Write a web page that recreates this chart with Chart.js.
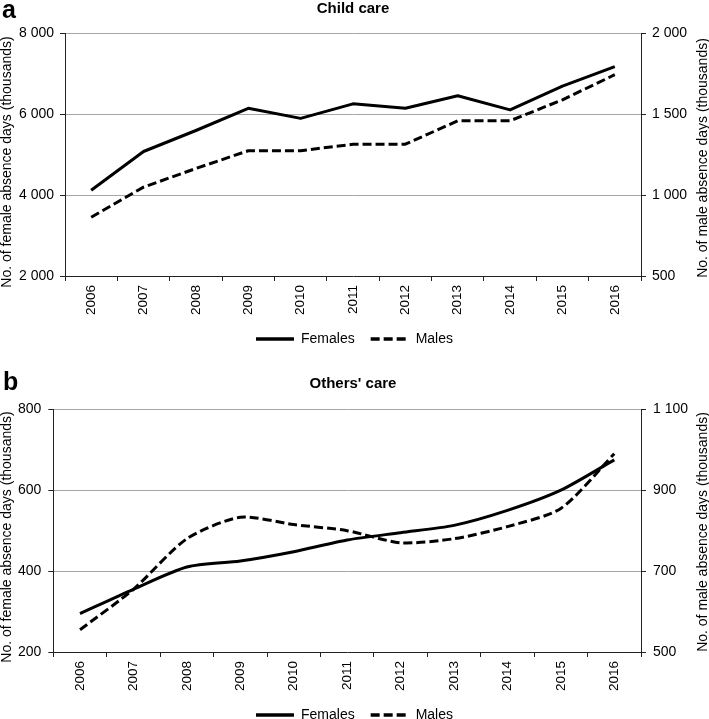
<!DOCTYPE html>
<html><head><meta charset="utf-8">
<script src="https://cdn.jsdelivr.net/npm/chart.js@4/dist/chart.umd.min.js"></script>
<style>
html,body{margin:0;padding:0;width:709px;height:719px;overflow:hidden;background:#fff;font-family:"Liberation Sans",Arial,sans-serif;}
.box{position:absolute;left:0;width:709px;}
.lbl{position:absolute;font-weight:bold;color:#000;white-space:nowrap;}
.rt{position:absolute;width:300px;height:14px;font-size:14px;line-height:14px;text-align:center;color:#000;white-space:nowrap;transform:rotate(-90deg);transform-origin:50% 50%;}
</style></head><body>
<div class="box" style="top:0;height:356px"><canvas id="cA" width="709" height="356"></canvas></div>
<div class="box" style="top:356px;height:376px"><canvas id="cB" width="709" height="376"></canvas></div>
<div class="lbl" style="left:2px;top:-3px;font-size:25px;line-height:25px;">a</div>
<div class="lbl" style="left:0;width:706px;text-align:center;top:0;font-size:15px;line-height:15px;">Child care</div>
<div class="lbl" style="left:3px;top:369px;font-size:25px;line-height:25px;">b</div>
<div class="lbl" style="left:0;width:706px;text-align:center;top:375px;font-size:15px;line-height:15px;">Others' care</div>
<div class="rt" id="ltA" style="left:-144.5px;top:154.5px;"></div>
<div class="rt" id="ltB" style="left:-144.5px;top:530px;"></div>
<div class="rt" id="rtA" style="left:551.7px;top:151.3px;"></div>
<div class="rt" id="rtB" style="left:551.7px;top:524.7px;"></div>
<script>
const years = ['2006','2007','2008','2009','2010','2011','2012','2013','2014','2015','2016'];
const childFemales = [4120,5080,5600,6150,5900,6260,6150,6460,6110,6700,7180];
const childMales   = [863,1050,1165,1275,1275,1315,1315,1460,1460,1590,1745];
const othersFemales = [295,355,410,425,448,477,495,513,550,600,675];
const othersMales   = [555,655,780,833,815,800,770,780,810,855,990];
const childLeftTicks  = ['2 000','4 000','6 000','8 000'];
const childRightTicks = ['500','1 000','1 500','2 000'];
const othersLeftTicks  = ['200','400','600','800'];
const othersRightTicks = ['500','700','900','1 100'];
const seriesNames = ['Females','Males'];
const leftTitle = 'No. of female absence days (thousands)';
const rightTitle = 'No. of male absence days (thousands)';

document.getElementById('ltA').textContent = leftTitle;
document.getElementById('ltB').textContent = leftTitle;
document.getElementById('rtA').textContent = rightTitle;
document.getElementById('rtB').textContent = rightTitle;

Chart.defaults.font.family = "'Liberation Sans', Arial, sans-serif";
Chart.defaults.color = '#000';
const AX = '#222';
const GRID = '#a6a6a6';

function legendLabels(chart) {
  const items = Chart.defaults.plugins.legend.labels.generateLabels(chart);
  items.forEach((it, i) => {
    const ds = chart.data.datasets[it.datasetIndex ?? i];
    it.lineDash = ds.borderDash || [];
    it.lineWidth = 3.5;
    it.strokeStyle = '#000';
    it.fillStyle = '#000';
    it.pointStyle = 'line';
    it.fontColor = '#000';
  });
  return items;
}

function makeChart(id, o) {
  return new Chart(document.getElementById(id), {
    type: 'line',
    data: { labels: years, datasets: [
      { label: seriesNames[0], data: o.f, yAxisID: 'yL', borderColor: '#000', backgroundColor: '#000', borderWidth: 3, pointRadius: 0, tension: o.tension, fill: false, borderJoinStyle: 'round' },
      { label: seriesNames[1], data: o.m, yAxisID: 'yR', borderColor: '#000', backgroundColor: '#000', borderWidth: 3, borderDash: [9,4], pointRadius: 0, tension: o.tension, fill: false, borderJoinStyle: 'round' }
    ]},
    options: {
      responsive: false, animation: false, events: [],
      layout: { padding: { top: o.top, left: 0, right: 0, bottom: 0 } },
      plugins: {
        title: { display: false }, tooltip: { enabled: false },
        legend: { display: true, position: 'bottom',
          labels: { usePointStyle: true, pointStyle: 'line', pointStyleWidth: 38, color: '#000', font: { size: 14 }, padding: 16, generateLabels: legendLabels } }
      },
      scales: {
        x: { type: 'category', offset: true,
          grid: { offset: true, drawOnChartArea: false, drawTicks: true, tickLength: 5, tickColor: AX, color: AX },
          border: { color: AX },
          ticks: { minRotation: 90, maxRotation: 90, autoSkip: false, padding: 4, color: '#000', font: { size: 13.5 } },
          afterFit(s) { s.height = 40; } },
        yL: { position: 'left', min: o.lMin, max: o.lMax,
          ticks: { stepSize: o.lStep, padding: o.tPad, color: '#000', font: { size: 14 }, callback: (v, i) => o.lTicks[i] },
          grid: { color: (c) => c.index === 0 ? 'rgba(0,0,0,0)' : GRID, tickColor: AX, tickLength: 5 },
          border: { color: AX },
          title: { display: false },
          afterFit(s) { s.width = o.leftW; } },
        yR: { position: 'right', min: o.rMin, max: o.rMax,
          ticks: { stepSize: o.rStep, padding: o.tPad, color: '#000', font: { size: 14 }, callback: (v, i) => o.rTicks[i] },
          grid: { drawOnChartArea: false, tickColor: AX, color: AX, tickLength: 5 },
          border: { color: AX },
          title: { display: false },
          afterFit(s) { s.width = 68; } }
      }
    }
  });
}

makeChart('cA', { f: childFemales, m: childMales, tension: 0, top: 33.5,
  lMin: 2000, lMax: 8000, lStep: 2000, lTicks: childLeftTicks,
  rMin: 500, rMax: 2000, rStep: 500, rTicks: childRightTicks, leftW: 65, tPad: 6 });
makeChart('cB', { f: othersFemales, m: othersMales, tension: 0.25, top: 53.3,
  lMin: 200, lMax: 800, lStep: 200, lTicks: othersLeftTicks,
  rMin: 500, rMax: 1100, rStep: 200, rTicks: othersRightTicks, leftW: 53.3, tPad: 7 });
</script>
</body></html>
